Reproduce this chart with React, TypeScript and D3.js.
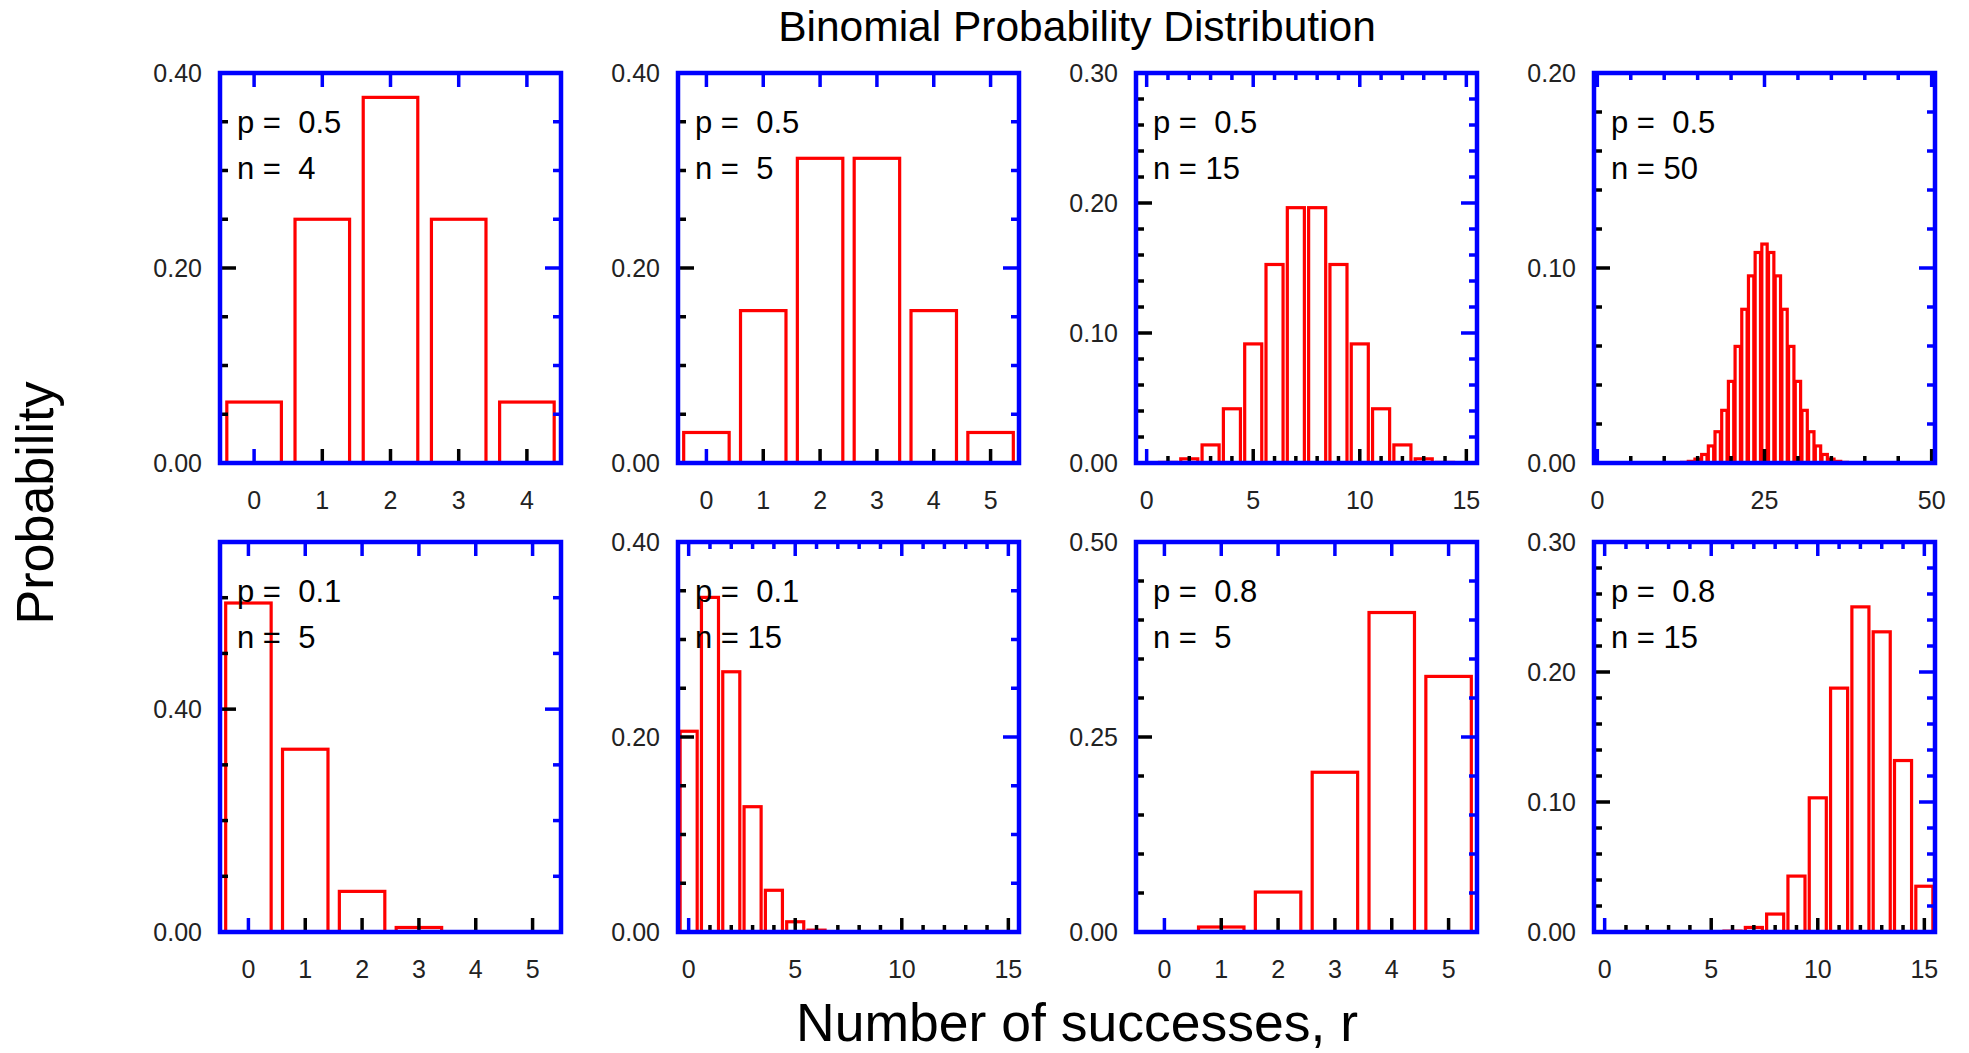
import React from 'react';
import * as d3 from 'd3';

// ---------- data (binomial probabilities) ----------
const probsP05N4 = [0.0625, 0.25, 0.375, 0.25, 0.0625];
const probsP05N5 = [0.0313, 0.1563, 0.3125, 0.3125, 0.1563, 0.0313];
const probsP05N15 = [0.00003, 0.00046, 0.0032, 0.0139, 0.0417, 0.0916, 0.1527, 0.1964, 0.1964, 0.1527, 0.0916, 0.0417, 0.0139, 0.0032, 0.00046, 0.00003];
const probsP05N50 = [
  0, 0, 0, 0, 0, 0, 0, 0.0000001, 0.0000005, 0.0000022,
  0.0000091, 0.0000331, 0.000108, 0.000315, 0.000833, 0.001999, 0.004373, 0.008746, 0.016035, 0.027006,
  0.041859, 0.059799, 0.078826, 0.095962, 0.107957, 0.112275, 0.107957, 0.095962, 0.078826, 0.059799,
  0.041859, 0.027006, 0.016035, 0.008746, 0.004373, 0.001999, 0.000833, 0.000315, 0.000108, 0.0000331,
  0.0000091, 0.0000022, 0.0000005, 0.0000001, 0, 0, 0, 0, 0, 0, 0,
];
const probsP01N5 = [0.59049, 0.32805, 0.0729, 0.0081, 0.00045, 0.00001];
const probsP01N15 = [0.2059, 0.3432, 0.2669, 0.1285, 0.0428, 0.0105, 0.0019, 0.00028, 0.00003, 0.000003, 0, 0, 0, 0, 0, 0];
const probsP08N5 = [0.00032, 0.0064, 0.0512, 0.2048, 0.4096, 0.32768];
const probsP08N15 = [0, 0, 0, 0.000001, 0.0000115, 0.0001, 0.00067, 0.0035, 0.0138, 0.043, 0.1032, 0.1876, 0.2501, 0.2309, 0.1319, 0.0352];

const pValues = [0.5, 0.5, 0.5, 0.5, 0.1, 0.1, 0.8, 0.8];
const nValues = [4, 5, 15, 50, 5, 15, 5, 15];

// tick values
const yTicks040 = [0, 0.2, 0.4];
const yTicks030 = [0, 0.1, 0.2, 0.3];
const yTicks020 = [0, 0.1, 0.2];
const yTicks070 = [0, 0.4];
const yTicks050 = [0, 0.25, 0.5];
const xTicks4 = [0, 1, 2, 3, 4];
const xTicks5 = [0, 1, 2, 3, 4, 5];
const xTicks15 = [0, 5, 10, 15];
const xTicks50 = [0, 25, 50];

const title = 'Binomial Probability Distribution';
const xTitle = 'Number of successes, r';
const yTitle = 'Probability';

// ---------- panel specs ----------
type Spec = {
  values: number[]; p: number; n: number;
  xMax: number; xMajor: number[]; xMinorStep: number;
  yMax: number; yMajor: number[]; yMinorStep: number;
};

const specs: Spec[] = [
  { values: probsP05N4, p: pValues[0], n: nValues[0], xMax: 4, xMajor: xTicks4, xMinorStep: 0, yMax: 0.4, yMajor: yTicks040, yMinorStep: 0.05 },
  { values: probsP05N5, p: pValues[1], n: nValues[1], xMax: 5, xMajor: xTicks5, xMinorStep: 0, yMax: 0.4, yMajor: yTicks040, yMinorStep: 0.05 },
  { values: probsP05N15, p: pValues[2], n: nValues[2], xMax: 15, xMajor: xTicks15, xMinorStep: 1, yMax: 0.3, yMajor: yTicks030, yMinorStep: 0.02 },
  { values: probsP05N50, p: pValues[3], n: nValues[3], xMax: 50, xMajor: xTicks50, xMinorStep: 5, yMax: 0.2, yMajor: yTicks020, yMinorStep: 0.02 },
  { values: probsP01N5, p: pValues[4], n: nValues[4], xMax: 5, xMajor: xTicks5, xMinorStep: 0, yMax: 0.7, yMajor: yTicks070, yMinorStep: 0.1 },
  { values: probsP01N15, p: pValues[5], n: nValues[5], xMax: 15, xMajor: xTicks15, xMinorStep: 1, yMax: 0.4, yMajor: yTicks040, yMinorStep: 0.05 },
  { values: probsP08N5, p: pValues[6], n: nValues[6], xMax: 5, xMajor: xTicks5, xMinorStep: 0, yMax: 0.5, yMajor: yTicks050, yMinorStep: 0.05 },
  { values: probsP08N15, p: pValues[7], n: nValues[7], xMax: 15, xMajor: xTicks15, xMinorStep: 1, yMax: 0.3, yMajor: yTicks030, yMinorStep: 0.02 },
];

// ---------- layout ----------
const WIDTH = 1969;
const HEIGHT = 1053;
const colLeft = [220, 678, 1136, 1594];
const rowTop = [73, 542];
const PW = 341;
const PH = 390;
const FONT = '"Liberation Sans", Arial, Helvetica, sans-serif';
const BLUE = '#0000ff';
const RED = '#ff0000';

const fmtY = d3.format('.2f');
const pFmt = d3.format('.1f');

function near(a: number[], v: number) {
  return a.some((m) => Math.abs(m - v) < 1e-9);
}

function Panel({ spec, left, top }: { spec: Spec; left: number; top: number }) {
  const x = d3.scaleLinear().domain([-0.5, spec.xMax + 0.5]).range([left, left + PW]);
  const y = d3.scaleLinear().domain([0, spec.yMax]).range([top + PH, top]);
  const bottom = top + PH;
  const right = left + PW;

  const yMinor = d3.range(0, spec.yMax + 1e-9, spec.yMinorStep).filter((v) => !near(spec.yMajor, v));
  const xMinor = spec.xMinorStep > 0
    ? d3.range(0, spec.xMax + 1e-9, spec.xMinorStep).filter((v) => !near(spec.xMajor, v))
    : [];

  const yMajLen = 16, yMinLen = 8, xMajLen = 14, xMinLen = 7;
  const tickW = 3.5;

  const nStr = spec.n < 10 ? ' ' + spec.n : String(spec.n);

  return (
    <g>
      {/* bars */}
      {spec.values.map((v, i) => {
        const x0 = x(i - 0.4);
        const x1 = x(i + 0.4);
        const yt = y(v);
        return (
          <rect key={i} x={x0} y={yt} width={x1 - x0} height={Math.max(0, bottom - yt)}
            fill="none" stroke={RED} strokeWidth={3.2} />
        );
      })}
      {/* left ticks (black) */}
      {spec.yMajor.map((v, i) => (
        <line key={'lM' + i} x1={left} x2={left + yMajLen} y1={y(v)} y2={y(v)} stroke="#000" strokeWidth={tickW} />
      ))}
      {yMinor.map((v, i) => (
        <line key={'lm' + i} x1={left} x2={left + yMinLen} y1={y(v)} y2={y(v)} stroke="#000" strokeWidth={tickW} />
      ))}
      {/* right ticks (blue) */}
      {spec.yMajor.map((v, i) => (
        <line key={'rM' + i} x1={right} x2={right - yMajLen} y1={y(v)} y2={y(v)} stroke={BLUE} strokeWidth={tickW} />
      ))}
      {yMinor.map((v, i) => (
        <line key={'rm' + i} x1={right} x2={right - yMinLen} y1={y(v)} y2={y(v)} stroke={BLUE} strokeWidth={tickW} />
      ))}
      {/* bottom ticks (black, first blue) */}
      {spec.xMajor.map((v, i) => (
        <line key={'bM' + i} x1={x(v)} x2={x(v)} y1={bottom} y2={bottom - xMajLen} stroke={i === 0 ? BLUE : '#000'} strokeWidth={tickW} />
      ))}
      {xMinor.map((v, i) => (
        <line key={'bm' + i} x1={x(v)} x2={x(v)} y1={bottom} y2={bottom - xMinLen} stroke="#000" strokeWidth={tickW} />
      ))}
      {/* top ticks (blue) */}
      {spec.xMajor.map((v, i) => (
        <line key={'tM' + i} x1={x(v)} x2={x(v)} y1={top} y2={top + xMajLen} stroke={BLUE} strokeWidth={tickW} />
      ))}
      {xMinor.map((v, i) => (
        <line key={'tm' + i} x1={x(v)} x2={x(v)} y1={top} y2={top + xMinLen} stroke={BLUE} strokeWidth={tickW} />
      ))}
      {/* box */}
      <rect x={left} y={top} width={PW} height={PH} fill="none" stroke={BLUE} strokeWidth={4.5} />
      {/* y tick labels */}
      {spec.yMajor.map((v, i) => (
        <text key={'yl' + i} x={left - 18} y={y(v)} dy="0.36em" textAnchor="end" fontSize={25} fontFamily={FONT} fill="#222">
          {fmtY(v)}
        </text>
      ))}
      {/* x tick labels */}
      {spec.xMajor.map((v, i) => (
        <text key={'xl' + i} x={x(v)} y={bottom + 46} textAnchor="middle" fontSize={25} fontFamily={FONT} fill="#222">
          {String(v)}
        </text>
      ))}
      {/* annotations */}
      <text x={left + 17} y={top + 60} fontSize={31} fontFamily={FONT} fill="#000" xmlSpace="preserve" style={{ whiteSpace: 'pre' }}>
        {'p =  ' + pFmt(spec.p)}
      </text>
      <text x={left + 17} y={top + 106} fontSize={31} fontFamily={FONT} fill="#000" xmlSpace="preserve" style={{ whiteSpace: 'pre' }}>
        {'n = ' + nStr}
      </text>
    </g>
  );
}

export default function App() {
  return (
    <svg width={WIDTH} height={HEIGHT} viewBox={`0 0 ${WIDTH} ${HEIGHT}`}
      style={{ position: 'absolute', left: 0, top: 0, background: '#fff' }}>
      <rect x={0} y={0} width={WIDTH} height={HEIGHT} fill="#fff" />
      {specs.map((s, i) => (
        <Panel key={i} spec={s} left={colLeft[i % 4]} top={rowTop[Math.floor(i / 4)]} />
      ))}
      <text x={1077} y={41} textAnchor="middle" fontSize={42.5} fontFamily={FONT} fill="#000">{title}</text>
      <text x={1077} y={1041} textAnchor="middle" fontSize={53.5} fontFamily={FONT} fill="#000">{xTitle}</text>
      <text transform="translate(53,503) rotate(-90)" textAnchor="middle" fontSize={52} fontFamily={FONT} fill="#000">{yTitle}</text>
    </svg>
  );
}
